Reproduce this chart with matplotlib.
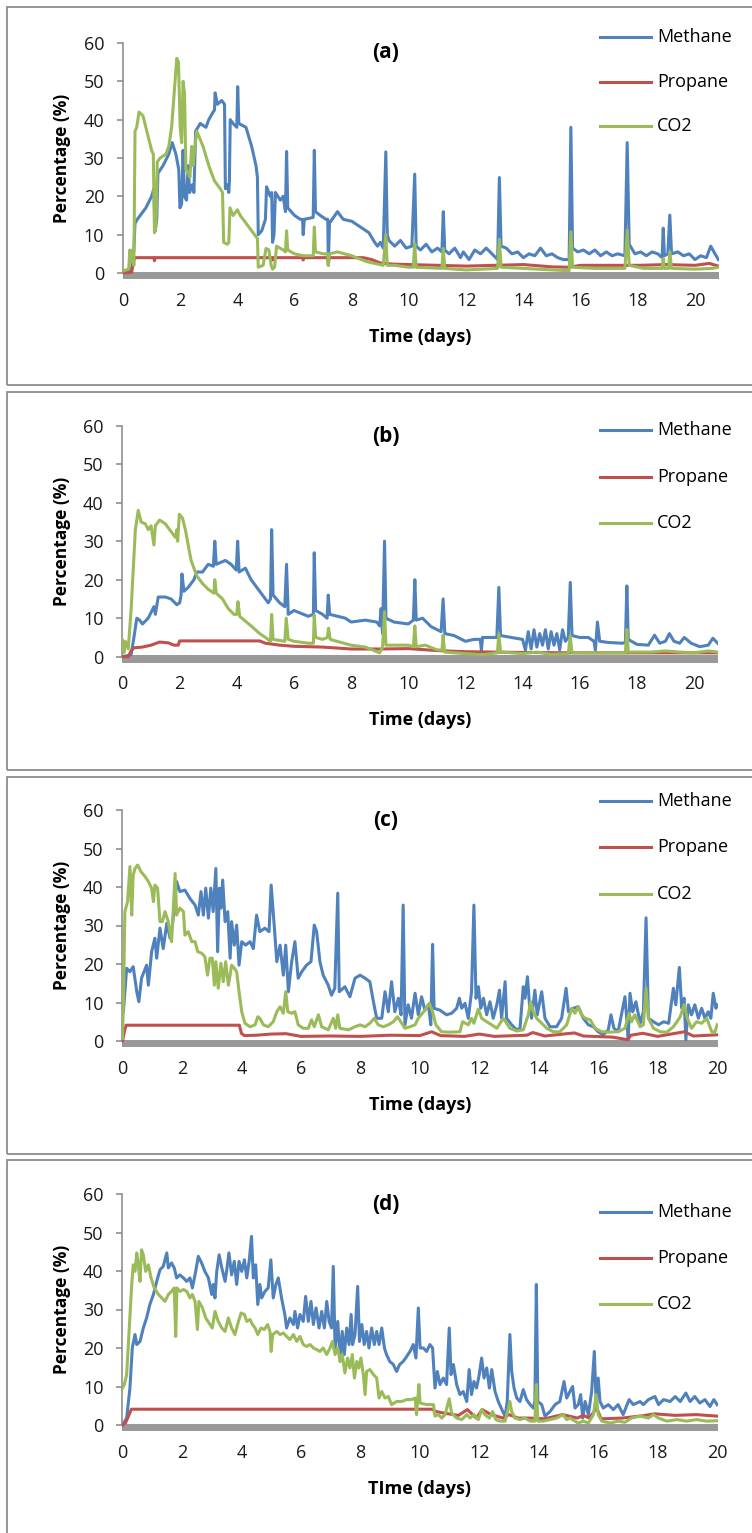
import matplotlib
matplotlib.use('Agg')
import matplotlib.pyplot as plt
from matplotlib.patches import Rectangle
from matplotlib.lines import Line2D

plt.rcParams['font.family'] = ['Open Sans', 'DejaVu Sans']

# gas composition readings, (day, percent)
a_methane = [
    (0, 0.5), (0.3, 1), (0.38, 6), (0.42, 13), (0.5, 14), (0.8, 17), (1.0, 20), (1.08, 22), (1.12, 11),
    (1.18, 14), (1.22, 26), (1.4, 28), (1.6, 31), (1.72, 34), (1.85, 31), (1.95, 27), (1.99, 17),
    (2.05, 18), (2.1, 32), (2.15, 20), (2.22, 19), (2.28, 28), (2.33, 21), (2.42, 23), (2.48, 21),
    (2.54, 37), (2.7, 39), (2.9, 38), (3.0, 40), (3.15, 42), (3.2, 42.5), (3.22, 47), (3.3, 44),
    (3.45, 45), (3.55, 44), (3.58, 22), (3.65, 23), (3.7, 21), (3.72, 24), (3.75, 40), (3.85, 39),
    (3.98, 38), (4.01, 48.6), (4.05, 39), (4.3, 38), (4.5, 33), (4.65, 28), (4.7, 25), (4.73, 10),
    (4.85, 11), (4.98, 14), (5.02, 22.5), (5.15, 20), (5.2, 21), (5.23, 8), (5.28, 10), (5.33, 21),
    (5.5, 19), (5.6, 20), (5.68, 16), (5.72, 31.7), (5.76, 17), (6.0, 15), (6.2, 14), (6.28, 14),
    (6.3, 10), (6.34, 14), (6.65, 14.5), (6.69, 32), (6.73, 16), (6.9, 15), (7.1, 14), (7.16, 14),
    (7.18, 2), (7.22, 13), (7.5, 16), (7.7, 14), (8.0, 13.5), (8.3, 12), (8.6, 10.5), (8.8, 8),
    (8.9, 7), (9.0, 8), (9.1, 6.5), (9.19, 31.6), (9.24, 10), (9.3, 8.5), (9.5, 7), (9.7, 8.5),
    (9.9, 6.5), (10.1, 7), (10.2, 25.8), (10.25, 7), (10.4, 6), (10.6, 7.5), (10.8, 5.5), (11.0, 6.5),
    (11.15, 5.5), (11.2, 16), (11.25, 6), (11.4, 5), (11.6, 6.5), (11.8, 4), (11.9, 5.5), (12.1, 3.5),
    (12.3, 6), (12.5, 5), (12.7, 6.5), (12.9, 5), (13.1, 3.5), (13.16, 24.9), (13.22, 7), (13.4, 6.5),
    (13.6, 5), (13.8, 5.5), (14.0, 4), (14.2, 5), (14.4, 4.5), (14.6, 6.5), (14.8, 4.5), (15.0, 5),
    (15.2, 4), (15.4, 3.5), (15.6, 3.5), (15.66, 38), (15.72, 6.5), (15.9, 5.5), (16.1, 6), (16.3, 5),
    (16.5, 6), (16.7, 4.5), (16.9, 5.5), (17.1, 4.5), (17.3, 5), (17.55, 4.5), (17.63, 34), (17.7, 7.5),
    (17.9, 5), (18.1, 5.5), (18.3, 4.5), (18.5, 5.5), (18.7, 5), (18.85, 4), (18.89, 11.7), (18.93, 4.5),
    (19.05, 5), (19.12, 15.1), (19.18, 5), (19.4, 5.5), (19.6, 4.5), (19.8, 5), (20.0, 3.5), (20.2, 4.5),
    (20.4, 4), (20.55, 7), (20.7, 5), (20.82, 3.5),
]
a_propane = [
    (0, 0), (0.3, 0.2), (0.4, 4), (1.08, 4), (1.1, 3.2), (1.12, 4), (5.2, 4), (5.23, 3.4), (5.26, 4),
    (6.28, 4), (6.3, 3.4), (6.33, 4), (7.16, 4), (7.18, 2.8), (7.21, 4), (8.4, 4), (8.7, 3.5), (9.0, 2.6),
    (9.5, 2.3), (10.0, 2.2), (11, 2.0), (12, 1.8), (13, 2.0), (14, 2.2), (15, 1.6), (15.6, 1.5), (16, 2.0),
    (17, 2.0), (18, 2.0), (19, 2.2), (20, 2.0), (20.5, 2.5), (20.82, 1.8),
]
a_co2 = [
    (0, 0.5), (0.2, 1), (0.24, 6), (0.3, 3), (0.34, 6), (0.38, 2), (0.42, 37), (0.48, 38), (0.56, 42),
    (0.7, 41), (0.9, 35), (1.0, 32), (1.06, 31), (1.1, 10.5), (1.15, 12), (1.2, 29), (1.3, 30), (1.5, 31),
    (1.6, 33), (1.7, 38), (1.82, 50), (1.88, 56), (1.94, 55), (2.0, 38), (2.05, 34), (2.1, 50), (2.15, 47),
    (2.2, 27), (2.3, 26), (2.34, 25), (2.4, 33), (2.45, 28), (2.5, 32), (2.58, 37), (2.8, 33), (3.0, 28),
    (3.2, 24), (3.4, 22), (3.48, 21), (3.52, 8), (3.65, 7.5), (3.7, 8), (3.74, 17), (3.85, 15), (4.0, 16.5),
    (4.1, 15), (4.3, 13), (4.6, 10), (4.7, 9), (4.73, 1.5), (4.9, 2), (5.0, 6.4), (5.1, 6), (5.18, 2),
    (5.23, 1), (5.3, 1.5), (5.37, 7), (5.6, 6), (5.68, 5.5), (5.72, 11), (5.76, 6), (6.0, 5), (6.3, 4.5),
    (6.65, 4.5), (6.69, 12), (6.73, 5.5), (7.0, 5), (7.16, 5), (7.18, 2), (7.22, 5), (7.5, 5.5), (8.0, 4.5),
    (8.5, 3), (8.8, 2.5), (9.1, 2), (9.19, 10), (9.24, 2), (9.5, 2), (10.0, 1.5), (10.15, 1.5), (10.2, 7.7),
    (10.25, 1.5), (11.15, 1.2), (11.2, 6.4), (11.25, 1.2), (12, 0.8), (13.1, 1.2), (13.16, 8.8),
    (13.22, 1.5), (14, 1.2), (15, 0.8), (15.6, 0.6), (15.66, 10.8), (15.72, 1.5), (16.5, 1.2), (17.55, 1.2),
    (17.63, 11.2), (17.7, 2), (18.2, 1.2), (18.85, 1.2), (18.89, 3.8), (18.93, 1.2), (19.08, 1.2),
    (19.12, 5.5), (19.18, 1.2), (20, 1.0), (20.6, 1.2), (20.82, 1.5),
]

b_methane = [
    (0, 0), (0.3, 0.5), (0.4, 5), (0.5, 10), (0.6, 9.5), (0.7, 8.5), (0.9, 10), (1.1, 13), (1.15, 11),
    (1.25, 15.5), (1.5, 15.5), (1.7, 15), (1.9, 13.5), (2.0, 14), (2.05, 16), (2.08, 21.5), (2.15, 17),
    (2.3, 18), (2.5, 20), (2.6, 22), (2.8, 22), (3.0, 24), (3.18, 23.5), (3.23, 30), (3.28, 24), (3.6, 25),
    (3.8, 24), (3.98, 22.5), (4.03, 30), (4.08, 22), (4.3, 23), (4.5, 20), (4.8, 17), (5.0, 15), (5.1, 14),
    (5.18, 15), (5.22, 33), (5.27, 16), (5.5, 14), (5.68, 13), (5.74, 24), (5.8, 11), (6.0, 12), (6.5, 10.5),
    (6.68, 11), (6.71, 27), (6.76, 12), (7.0, 11), (7.16, 10), (7.2, 16), (7.25, 11), (7.8, 10), (8.0, 9),
    (8.5, 9.5), (8.9, 9), (9.0, 8), (9.05, 12.5), (9.1, 6), (9.17, 30), (9.22, 10), (9.5, 9), (10.0, 8.5),
    (10.18, 9.5), (10.23, 20), (10.28, 9.5), (10.5, 10), (10.8, 7.8), (11.15, 6.5), (11.22, 15), (11.28, 6),
    (11.6, 5.5), (12.0, 4), (12.3, 4.5), (12.52, 4.5), (12.56, 1.7), (12.6, 5), (13.1, 5), (13.17, 18),
    (13.23, 5.5), (13.6, 5), (14.0, 4.5), (14.1, 1.7), (14.2, 6.5), (14.3, 2), (14.4, 7), (14.5, 2.5),
    (14.6, 6), (14.7, 3), (14.8, 7), (14.9, 2), (15.0, 6.5), (15.1, 3), (15.2, 6), (15.3, 1.8), (15.4, 7),
    (15.5, 4), (15.6, 5), (15.67, 19.3), (15.73, 5.5), (16.0, 5), (16.3, 5), (16.5, 4), (16.55, 1.7),
    (16.62, 9), (16.7, 4), (17.0, 3.7), (17.5, 3.5), (17.6, 3.7), (17.65, 18.4), (17.7, 4.5), (18.0, 3.2),
    (18.4, 3.0), (18.62, 5.6), (18.8, 3.5), (19.0, 4), (19.14, 6), (19.3, 4), (19.5, 3.5), (19.66, 5),
    (19.9, 3.5), (20.2, 2.6), (20.5, 3), (20.66, 4.8), (20.83, 3.5),
]
b_propane = [
    (0, 0), (0.2, 0), (0.3, 1.5), (0.4, 2.3), (0.7, 2.5), (1.0, 3), (1.3, 3.8), (1.6, 3.6), (1.8, 3),
    (1.95, 3), (2.0, 4.1), (4.8, 4.1), (5.0, 3.5), (5.5, 3), (6.0, 2.7), (7.0, 2.5), (8.0, 2), (9.0, 2),
    (10.0, 2.1), (11, 1.6), (12, 1.3), (14, 1.1), (16, 1.0), (18, 1.0), (20.83, 1.0),
]
b_co2 = [
    (0, 4.3), (0.05, 1), (0.1, 4), (0.2, 2), (0.3, 12), (0.45, 33), (0.55, 38), (0.65, 35), (0.8, 34.5),
    (0.9, 33), (1.0, 34), (1.1, 29), (1.15, 34), (1.3, 35.5), (1.5, 34.5), (1.7, 32.5), (1.85, 31), (1.9, 33),
    (1.93, 30), (1.99, 37), (2.1, 36), (2.2, 33), (2.4, 25), (2.6, 21), (2.8, 19), (3.0, 17.5), (3.2, 16.5),
    (3.23, 20), (3.28, 16.5), (3.5, 15), (3.7, 12.5), (3.9, 11), (4.0, 11), (4.04, 14.3), (4.1, 10.5),
    (4.5, 8), (4.8, 6), (5.0, 5), (5.18, 4), (5.22, 11), (5.27, 4.5), (5.68, 4), (5.73, 10), (5.8, 4.5),
    (6.0, 4), (6.5, 3.5), (6.68, 3.5), (6.71, 10.8), (6.76, 5), (7.0, 4.5), (7.17, 5), (7.21, 7.4),
    (7.27, 4.5), (7.5, 4), (8.0, 3), (8.5, 2.5), (9.0, 1), (9.1, 2.5), (9.17, 11.7), (9.22, 3), (9.5, 3),
    (10.0, 3), (10.18, 2.6), (10.23, 8), (10.28, 2.6), (10.6, 3), (11.0, 1.8), (11.18, 1.7), (11.22, 5.6),
    (11.27, 1.2), (12.0, 0.8), (12.6, 0.5), (13.12, 1), (13.17, 6), (13.23, 1.2), (14, 0.8), (14.5, 1.2),
    (15.0, 0.6), (15.6, 0.8), (15.67, 5.4), (15.73, 1), (16.5, 1), (17.6, 1), (17.65, 7.1), (17.7, 1.2),
    (18.5, 1.2), (19, 1.5), (19.5, 1.2), (20, 1), (20.5, 1.5), (20.83, 1.2),
]

c_methane = [
    (0.03, 7.6), (0.14, 18.9), (0.25, 18), (0.36, 19.3), (0.48, 12.8), (0.55, 10.2), (0.64, 16.3),
    (0.81, 19.7), (0.87, 14.5), (0.98, 23.2), (1.09, 26.7), (1.15, 21.5), (1.26, 29.3), (1.37, 24),
    (1.49, 30.6), (1.6, 26.7), (1.68, 30.1), (1.82, 41.4), (1.93, 38.8), (2.1, 39.2), (2.27, 37),
    (2.44, 35.3), (2.55, 32.7), (2.64, 38.8), (2.72, 32.7), (2.8, 39.7), (2.89, 31.9), (2.97, 39.7),
    (3.05, 33.6), (3.14, 44.8), (3.2, 23.2), (3.26, 39.7), (3.31, 34.5), (3.37, 41.8), (3.45, 31),
    (3.54, 33.6), (3.62, 21.5), (3.67, 31), (3.76, 24.9), (3.84, 30.1), (3.92, 19.7), (4.01, 25.8),
    (4.14, 24.9), (4.29, 25.8), (4.4, 24), (4.51, 32.7), (4.62, 28.4), (4.79, 29.3), (4.93, 28.4),
    (5.0, 40.5), (5.11, 29.3), (5.19, 20.6), (5.3, 24.9), (5.41, 17.1), (5.49, 24.9), (5.58, 12.8),
    (5.69, 20.6), (5.8, 25.8), (5.91, 16.3), (6.03, 18), (6.19, 19.7), (6.34, 20.6), (6.45, 30.1),
    (6.53, 28.4), (6.64, 20.6), (6.75, 17.1), (6.92, 14.5), (7.03, 11.9), (7.14, 13.7), (7.24, 38.4),
    (7.29, 12.8), (7.48, 14.1), (7.65, 11.5), (7.82, 16.3), (7.99, 17.1), (8.16, 16.3), (8.32, 15.4),
    (8.44, 10.2), (8.55, 5.9), (8.72, 5.9), (8.83, 12.8), (8.94, 7.6), (9.05, 15.4), (9.16, 7.6),
    (9.28, 11.1), (9.37, 6.8), (9.44, 35.3), (9.5, 4.2), (9.61, 9.4), (9.72, 5.9), (9.84, 12.4),
    (9.95, 6.8), (10.06, 11.5), (10.17, 8), (10.29, 9.4), (10.37, 4.2), (10.43, 25.1), (10.48, 8.5),
    (10.68, 8), (10.9, 6.8), (11.07, 7.2), (11.24, 8.5), (11.33, 11.1), (11.41, 8.5), (11.52, 9.8),
    (11.63, 5.9), (11.74, 12.8), (11.82, 35.3), (11.89, 11.1), (11.97, 14.1), (12.05, 8.5), (12.14, 11.1),
    (12.25, 6.8), (12.36, 10.2), (12.47, 5.9), (12.59, 9.4), (12.68, 13.2), (12.75, 5.9), (12.87, 15.4),
    (12.92, 5.9), (13.09, 4.2), (13.26, 2.9), (13.37, 3.3), (13.48, 14.1), (13.54, 11.1), (13.62, 16.7),
    (13.69, 9.4), (13.76, 5.9), (13.87, 13.2), (13.95, 6.8), (14.1, 12.8), (14.21, 5.9), (14.38, 3.7),
    (14.6, 3.7), (14.77, 5.9), (14.92, 13.7), (15.0, 7.6), (15.16, 8.5), (15.33, 8.9), (15.5, 5.9),
    (15.67, 4.2), (15.84, 3.7), (16.0, 2.4), (16.17, 1.6), (16.34, 2.9), (16.43, 6.8), (16.53, 3.3),
    (16.67, 2.4), (16.9, 11.5), (16.96, 5.9), (17.01, 0.3), (17.07, 12.4), (17.16, 7.6), (17.27, 10.2),
    (17.41, 4.6), (17.52, 7.6), (17.61, 32), (17.69, 5.9), (17.86, 5), (18.03, 4.2), (18.2, 5),
    (18.37, 4.6), (18.53, 13.7), (18.61, 9.4), (18.73, 19.1), (18.81, 8.5), (18.89, 11.1), (18.95, 0.3),
    (19.03, 9.4), (19.14, 6.8), (19.25, 9.4), (19.37, 5.9), (19.48, 8.5), (19.59, 5.9), (19.7, 7.6),
    (19.79, 5.9), (19.87, 12.4), (19.96, 8.5), (20.0, 9.4),
]
c_propane = [
    (0, 0), (0.08, 3), (0.12, 4.1), (3.93, 4.1), (4.0, 2.0), (4.1, 1.4), (4.5, 1.5), (5.0, 1.8), (5.5, 1.9),
    (6.0, 1.2), (7.0, 1.3), (8.0, 1.2), (9.0, 1.5), (10.0, 1.4), (10.4, 2.4), (10.7, 1.4), (11.5, 1.2),
    (12.0, 1.8), (12.5, 1.2), (13.6, 1.5), (13.8, 2.2), (14.2, 1.3), (15.2, 2.1), (15.5, 1.3), (16.5, 1.0),
    (17.0, 0.3), (17.1, 1.5), (17.5, 2.0), (18.0, 1.2), (18.9, 2.4), (19.2, 1.3), (20, 1.6),
]
c_co2 = [
    (0, 0.7), (0.03, 9.4), (0.08, 33.6), (0.17, 36.2), (0.25, 45.3), (0.31, 32.7), (0.36, 43.1),
    (0.42, 44.8), (0.51, 45.7), (0.62, 44), (0.76, 42.7), (0.87, 41.4), (0.98, 39.7), (1.04, 36.2),
    (1.09, 40.5), (1.18, 39.7), (1.26, 31), (1.34, 31), (1.43, 33.6), (1.54, 31), (1.65, 25.8),
    (1.71, 34.5), (1.77, 43.5), (1.82, 32.7), (1.93, 34.5), (2.05, 33.6), (2.1, 27.5), (2.21, 28.4),
    (2.33, 25.8), (2.44, 25.8), (2.53, 23.2), (2.66, 22.8), (2.77, 21.9), (2.86, 17.1), (2.94, 21.5),
    (3.02, 21.5), (3.09, 14.5), (3.14, 20.6), (3.22, 13.7), (3.31, 20.2), (3.39, 15.4), (3.47, 20.6),
    (3.56, 14.5), (3.62, 17.1), (3.67, 19.7), (3.76, 18.9), (3.84, 18), (3.92, 12.8), (4.01, 7.6),
    (4.12, 4.6), (4.29, 3.7), (4.46, 4.2), (4.55, 6.3), (4.62, 5.9), (4.74, 4.2), (4.9, 3.7), (5.07, 5),
    (5.19, 7.6), (5.3, 8.9), (5.41, 7.2), (5.49, 12.8), (5.56, 7.6), (5.69, 7.2), (5.8, 7.6), (5.91, 4.2),
    (6.08, 3.3), (6.25, 3.3), (6.36, 5.5), (6.45, 3.7), (6.59, 6.8), (6.7, 3.7), (6.92, 2.9), (7.09, 5.9),
    (7.17, 3.3), (7.24, 6.8), (7.31, 3.3), (7.6, 2.9), (7.82, 3.7), (7.99, 4.2), (8.16, 3.7), (8.32, 4.6),
    (8.47, 5.9), (8.6, 4.2), (8.77, 3.7), (8.94, 4.2), (9.11, 5), (9.25, 6.3), (9.39, 4.6), (9.5, 3.3),
    (9.67, 3.7), (9.84, 4.2), (9.95, 5.9), (10.17, 8), (10.32, 9.8), (10.43, 7.6), (10.54, 4.2),
    (10.73, 2.4), (11.01, 2.3), (11.35, 2.4), (11.44, 5), (11.63, 4.2), (11.74, 5.9), (11.82, 4.6),
    (11.97, 8.3), (12.08, 5.9), (12.25, 5), (12.42, 4.2), (12.59, 3.3), (12.81, 5.9), (13.03, 3.3),
    (13.26, 2.6), (13.48, 2.9), (13.65, 6.8), (13.73, 10.2), (13.82, 7.6), (13.93, 5.9), (14.1, 4.6),
    (14.27, 3.3), (14.49, 2.4), (14.71, 2.4), (14.94, 4.2), (15.11, 8.5), (15.22, 7.2), (15.33, 8.9),
    (15.44, 6.8), (15.56, 5.9), (15.73, 5.5), (15.9, 3.3), (16.12, 2.4), (16.4, 2.3), (16.67, 2.4),
    (16.9, 3.3), (17.04, 7.2), (17.12, 5), (17.23, 6.8), (17.41, 3.7), (17.52, 4.2), (17.61, 13.7),
    (17.69, 5.9), (17.86, 3.3), (18.09, 2.4), (18.31, 2.3), (18.53, 3.7), (18.65, 5), (18.76, 6.3),
    (18.89, 9.4), (19.0, 5.9), (19.14, 3.3), (19.31, 5), (19.48, 4.6), (19.65, 5.9), (19.82, 2.4),
    (19.93, 2.4), (20.0, 4.2),
]

d_methane = [
    (0, 0), (0.14, 1.8), (0.25, 9.6), (0.33, 20), (0.42, 23.5), (0.48, 20.9), (0.59, 21.7), (0.7, 25.2),
    (0.81, 27.8), (0.92, 31.3), (1.04, 33.9), (1.15, 37.3), (1.26, 40.3), (1.37, 41.2), (1.49, 44.7),
    (1.54, 40.8), (1.65, 42.1), (1.74, 40.8), (1.82, 38.2), (1.93, 39), (2.05, 38.2), (2.16, 37.3),
    (2.27, 38.2), (2.35, 35.6), (2.44, 39), (2.55, 43.8), (2.66, 42.1), (2.77, 39.9), (2.89, 38.2),
    (3.0, 33.9), (3.05, 36.5), (3.11, 33), (3.17, 39.9), (3.25, 44.2), (3.34, 40.8), (3.45, 37.3),
    (3.5, 39.9), (3.58, 44.7), (3.67, 39), (3.76, 42.5), (3.84, 36.5), (3.92, 42.5), (4.01, 39.9),
    (4.1, 42.9), (4.18, 38.2), (4.26, 42.5), (4.34, 49), (4.4, 38.2), (4.48, 41.6), (4.55, 31.3),
    (4.62, 36.5), (4.68, 33), (4.79, 34.7), (4.9, 35.6), (4.99, 42.9), (5.07, 33), (5.16, 36.5),
    (5.24, 38.2), (5.35, 33), (5.46, 28.7), (5.52, 25.2), (5.63, 27.8), (5.75, 26.1), (5.8, 29.5),
    (5.89, 25.2), (5.97, 28.7), (6.08, 26.9), (6.16, 33.4), (6.25, 26.9), (6.34, 32.1), (6.42, 26.1),
    (6.51, 30.4), (6.61, 25.2), (6.7, 29.5), (6.79, 25.2), (6.87, 32.1), (6.95, 26.9), (7.03, 25.2),
    (7.09, 41.2), (7.15, 20), (7.24, 26.9), (7.32, 16.5), (7.39, 24.3), (7.46, 18.3), (7.54, 25.2),
    (7.62, 20.9), (7.69, 28.7), (7.74, 20.9), (7.82, 23.5), (7.91, 36), (7.97, 21.7), (8.05, 26.1),
    (8.13, 20.9), (8.21, 24.3), (8.29, 20), (8.38, 25.2), (8.47, 20.9), (8.55, 24.3), (8.63, 20.9),
    (8.72, 25.2), (8.81, 20), (8.88, 18.3), (8.99, 16.5), (9.11, 15.7), (9.22, 13.9), (9.32, 15.7),
    (9.44, 16.5), (9.56, 17.8), (9.67, 19.1), (9.78, 20.9), (9.87, 17.4), (9.95, 30.4), (10.01, 20),
    (10.12, 20), (10.23, 19.1), (10.34, 20.9), (10.43, 20), (10.51, 9.6), (10.59, 13.9), (10.68, 10.5),
    (10.79, 12.2), (10.9, 10.5), (10.99, 25.2), (11.05, 13.1), (11.13, 15.7), (11.24, 10.5), (11.35, 7.9),
    (11.46, 8.7), (11.58, 6.1), (11.66, 14.4), (11.74, 7.9), (11.82, 11.3), (11.91, 9.6), (12.0, 13.1),
    (12.08, 17.4), (12.16, 12.2), (12.25, 14.8), (12.34, 9.6), (12.42, 14.4), (12.53, 8.7), (12.64, 6.1),
    (12.76, 4), (12.87, 2.3), (12.94, 6.1), (13.03, 23.5), (13.09, 13.9), (13.17, 9.6), (13.26, 7),
    (13.37, 6.1), (13.48, 9.2), (13.59, 6.6), (13.71, 5.3), (13.82, 4.4), (13.87, 6.1), (13.92, 36.5),
    (13.97, 6.1), (14.1, 5.3), (14.21, 2.3), (14.38, 3.5), (14.55, 5.3), (14.71, 6.1), (14.85, 11.3),
    (14.94, 7), (15.05, 8.7), (15.14, 10), (15.22, 4.4), (15.33, 5.3), (15.41, 7.9), (15.48, 1.8),
    (15.56, 6.1), (15.67, 2.7), (15.78, 8.7), (15.87, 19.1), (15.93, 6.1), (16.0, 12.2), (16.06, 6.1),
    (16.17, 4.4), (16.34, 5.3), (16.51, 4), (16.67, 5.3), (16.84, 2.7), (17.04, 6.6), (17.18, 5.3),
    (17.41, 6.1), (17.52, 5.3), (17.69, 6.6), (17.91, 7.4), (18.03, 5.3), (18.2, 6.6), (18.42, 6.1),
    (18.59, 7.4), (18.76, 6.1), (18.95, 8.3), (19.09, 6.1), (19.25, 7.4), (19.42, 5.7), (19.59, 6.6),
    (19.76, 4.8), (19.89, 6.6), (20.0, 5.3),
]
d_propane = [
    (0, 0), (0.1, 0.5), (0.3, 4.1), (10.4, 4.1), (10.55, 3.5), (10.8, 3.1), (11.3, 2.5), (11.6, 4),
    (11.9, 1.8), (12.1, 4), (12.4, 2.7), (12.8, 1.8), (13.0, 2.7), (13.3, 1.8), (13.7, 1.8), (14.2, 1.6),
    (14.8, 2.7), (15.3, 1.8), (15.5, 2.5), (15.7, 1.8), (15.95, 4.4), (16.1, 1.6), (16.8, 1.8), (17.5, 2.4),
    (17.9, 2.9), (18.6, 2.5), (19.3, 2.7), (20, 2.3),
]
d_co2 = [
    (0, 9.6), (0.06, 10.5), (0.14, 13.1), (0.22, 24.3), (0.31, 36.5), (0.36, 41.6), (0.42, 39.9),
    (0.48, 44.7), (0.53, 41.6), (0.59, 37.3), (0.64, 45.5), (0.7, 44.2), (0.78, 39.9), (0.87, 41.6),
    (0.96, 38.2), (1.07, 35.6), (1.21, 33.9), (1.32, 33), (1.43, 32.1), (1.54, 33.9), (1.65, 34.7),
    (1.74, 35.6), (1.79, 23), (1.83, 35.6), (1.93, 34.7), (2.05, 35.2), (2.16, 34.7), (2.27, 33),
    (2.35, 33.9), (2.44, 32.1), (2.52, 24.8), (2.57, 32.1), (2.69, 30.4), (2.8, 27.8), (2.91, 26.5),
    (3.02, 25.2), (3.11, 29.5), (3.22, 26.9), (3.34, 25.2), (3.45, 24.3), (3.56, 27.8), (3.67, 25.2),
    (3.78, 23.5), (3.9, 26.9), (3.99, 29.1), (4.1, 28.7), (4.18, 26.9), (4.29, 27.4), (4.37, 26.1),
    (4.46, 25.2), (4.55, 23.5), (4.66, 25.2), (4.77, 24.8), (4.88, 26.1), (4.96, 24.3), (5.0, 19.1),
    (5.05, 23.5), (5.19, 24.3), (5.3, 23.5), (5.41, 23.9), (5.52, 23), (5.63, 22.2), (5.75, 23.5),
    (5.86, 21.7), (5.97, 23), (6.08, 20.9), (6.19, 20.4), (6.31, 20.9), (6.42, 20), (6.53, 19.6),
    (6.64, 19.1), (6.75, 20), (6.87, 18.3), (6.98, 20), (7.06, 21.7), (7.15, 18.3), (7.24, 20),
    (7.32, 16.5), (7.39, 18.3), (7.48, 13.5), (7.57, 17.4), (7.65, 14.8), (7.73, 18.3), (7.8, 12.2),
    (7.88, 16.5), (7.95, 14.8), (8.02, 17.4), (8.1, 13.1), (8.16, 7.9), (8.21, 13.9), (8.32, 14.4),
    (8.44, 13.1), (8.55, 12.2), (8.63, 7), (8.72, 8.7), (8.83, 7), (8.94, 7.4), (9.05, 5.3), (9.22, 6.1),
    (9.39, 6.1), (9.56, 6.6), (9.72, 6.6), (9.84, 7), (9.89, 2.7), (9.97, 10.5), (10.01, 5.7),
    (10.23, 5.3), (10.46, 5.3), (10.51, 2.3), (10.62, 2.7), (10.74, 1.8), (10.85, 2.7), (10.99, 6.8),
    (11.07, 3.1), (11.24, 1.8), (11.41, 1.4), (11.58, 2.7), (11.69, 1.8), (11.82, 2.7), (11.97, 1.4),
    (12.08, 4), (12.19, 2.7), (12.34, 1.8), (12.45, 3.5), (12.56, 1.4), (12.7, 1), (12.87, 1),
    (13.03, 6.1), (13.09, 3.5), (13.2, 1.8), (13.37, 1.4), (13.54, 1.8), (13.71, 1), (13.87, 1),
    (13.92, 10.5), (13.97, 1), (14.15, 1), (14.38, 1.4), (14.6, 1.8), (14.82, 2.7), (14.94, 1.4),
    (15.05, 1.8), (15.22, 1), (15.33, 0.5), (15.5, 1), (15.67, 0.5), (15.84, 2.7), (15.93, 7.9),
    (16.0, 2.7), (16.12, 1), (16.4, 0.5), (16.67, 1), (16.9, 0.7), (17.12, 1.8), (17.41, 2.3),
    (17.69, 1.8), (17.86, 2.7), (18.03, 1.8), (18.31, 1), (18.65, 1.4), (18.98, 1), (19.31, 1.4),
    (19.65, 1), (19.98, 1.1),
]

W, H = 752, 1533
BLUE, RED, GREEN = '#4f81bd', '#c0504d', '#9bbb59'
AXIS_GREY = '#868686'
BAR_GREY = '#999999'
YMIN = -1.6

# panel layout in pixels: plot x-range, y of 60 and 0, frame box, legend row heights
panels = [
    dict(tag='(a)', series=(a_methane, a_propane, a_co2), x0=123, x1=719, xmax=20.84,
         top=43, zero=273, box=(7, 385), leg=(37, 82, 126), title_y=52, xlab_y=337,
         xlabel='Time (days)'),
    dict(tag='(b)', series=(b_methane, b_propane, b_co2), x0=122.5, x1=718, xmax=20.84,
         top=425.7, zero=656.7, box=(392, 769.5), leg=(430, 477, 523), title_y=436, xlab_y=720,
         xlabel='Time (days)'),
    dict(tag='(c)', series=(c_methane, c_propane, c_co2), x0=122.5, x1=718, xmax=20.03,
         top=810, zero=1041, box=(777, 1154), leg=(801, 847, 894), title_y=821, xlab_y=1105,
         xlabel='Time (days)'),
    dict(tag='(d)', series=(d_methane, d_propane, d_co2), x0=122.5, x1=718, xmax=20.03,
         top=1194, zero=1425, box=(1160, 1545), leg=(1212, 1258, 1304), title_y=1205, xlab_y=1489,
         xlabel='TIme (days)'),
]
names = ['Methane', 'Propane', 'CO2']
colors = [BLUE, RED, GREEN]

fig = plt.figure(figsize=(W / 100, H / 100), dpi=100)


def fx(x):
    return x / W


def fy(y):
    return 1 - y / H


for p in panels:
    unit = (p['zero'] - p['top']) / 60.0
    bottom = p['zero'] - YMIN * unit
    ax = fig.add_axes([fx(p['x0']), fy(bottom), (p['x1'] - p['x0']) / W, (bottom - p['top']) / H])
    ax.set_xlim(0, p['xmax'])
    ax.set_ylim(YMIN, 60)
    ax.patch.set_alpha(0)

    for side in ('top', 'right', 'bottom'):
        ax.spines[side].set_visible(False)
    ax.spines['left'].set_color(AXIS_GREY)
    ax.spines['left'].set_bounds(0, 60)
    ax.spines['left'].set_linewidth(1.1)

    ax.axhspan(YMIN, 0.35, color=BAR_GREY, lw=0, zorder=1)

    for data, c in zip(p['series'], colors):
        t = [d for d, v in data]
        v = [v for d, v in data]
        ax.plot(t, v, color=c, lw=2.2, zorder=3, solid_joinstyle='round')

    ax.set_yticks(range(0, 61, 10))
    ax.set_xticks(range(0, 21, 2))
    ax.tick_params(axis='y', direction='out', length=4.5, width=1.1, color=AXIS_GREY,
                   pad=9, labelsize=13, labelcolor='#1a1a1a')
    ax.tick_params(axis='x', length=0, pad=9, labelsize=13, labelcolor='#1a1a1a')

    # frame around each panel (runs past the right edge)
    b0, b1 = p['box']
    fig.patches.append(Rectangle((fx(7), fy(b1)), (800 - 7) / W, (b1 - b0) / H, fill=False,
                                 edgecolor='#8c8c8c', lw=1.3, transform=fig.transFigure,
                                 figure=fig, zorder=0))

    fig.text(fx(386), fy(p['title_y']), p['tag'], fontsize=15, fontweight='bold',
             ha='center', va='center')
    fig.text(fx(62), fy((p['top'] + p['zero']) / 2), 'Percentage (%)', fontsize=12.5,
             fontweight='bold', rotation=90, ha='center', va='center')
    fig.text(fx(420), fy(p['xlab_y']), p['xlabel'], fontsize=13, fontweight='bold',
             ha='center', va='center')

    for name, c, ly in zip(names, colors, p['leg']):
        fig.add_artist(Line2D([fx(600), fx(651)], [fy(ly), fy(ly)], color=c, lw=2.2,
                              transform=fig.transFigure))
        fig.text(fx(657), fy(ly), name, fontsize=13, ha='left', va='center')

fig.savefig('out.png', dpi=100)
